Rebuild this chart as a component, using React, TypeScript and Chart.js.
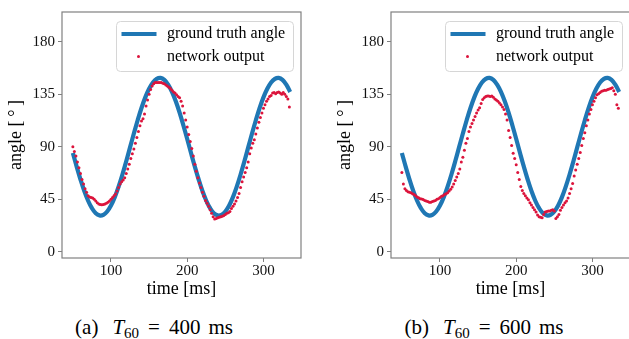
import React, { useEffect, useRef } from "react";
import { Chart, registerables } from "chart.js";

Chart.register(...registerables);

// ---------------- data ----------------
const gtTimes = [
  50, 55, 60, 65, 70, 75, 80, 85, 90, 95,
  100, 105, 110, 115, 120, 125, 130, 135, 140, 145,
  150, 155, 160, 165, 170, 175, 180, 185, 190, 195,
  200, 205, 210, 215, 220, 225, 230, 235, 240, 245,
  250, 255, 260, 265, 270, 275, 280, 285, 290, 295,
  300, 305, 310, 315, 320, 325, 330, 335,
];

const gtAngles = [
  84.6, 72.9, 61.9, 52.0, 43.7, 37.3, 33.0, 31.1, 31.6, 34.5,
  39.6, 46.8, 55.8, 66.2, 77.5, 89.4, 101.3, 112.7, 123.2, 132.3,
  139.7, 145.1, 148.2, 149.0, 147.3, 143.2, 137.0, 128.9, 119.2, 108.2,
  96.6, 84.6, 72.9, 61.9, 52.0, 43.7, 37.3, 33.0, 31.1, 31.6,
  34.5, 39.6, 46.8, 55.8, 66.2, 77.5, 89.4, 101.3, 112.7, 123.2,
  132.3, 139.7, 145.1, 148.2, 149.0, 147.3, 143.2, 137.0,
];

const outTimes = [
  50, 52, 54, 56, 58, 60, 62, 64, 66, 68,
  70, 72, 74, 76, 78, 80, 82, 84, 86, 88,
  90, 92, 94, 96, 98, 100, 102, 104, 106, 108,
  110, 112, 114, 116, 118, 120, 122, 124, 126, 128,
  130, 132, 134, 136, 138, 140, 142, 144, 146, 148,
  150, 152, 154, 156, 158, 160, 162, 164, 166, 168,
  170, 172, 174, 176, 178, 180, 182, 184, 186, 188,
  190, 192, 194, 196, 198, 200, 202, 204, 206, 208,
  210, 212, 214, 216, 218, 220, 222, 224, 226, 228,
  230, 232, 234, 236, 238, 240, 242, 244, 246, 248,
  250, 252, 254, 256, 258, 260, 262, 264, 266, 268,
  270, 272, 274, 276, 278, 280, 282, 284, 286, 288,
  290, 292, 294, 296, 298, 300, 302, 304, 306, 308,
  310, 312, 314, 316, 318, 320, 322, 324, 326, 328,
  330, 332, 334,
];

// (a) T60 = 400 ms
const outAngles400 = [
  90, 86, 82, 77, 72, 67, 62, 58, 54, 51,
  48, 47, 46.5, 46, 45, 43.5, 42, 41, 40.5, 40.3,
  40.5, 41, 41.5, 42.5, 43.5, 45, 46.5, 48, 49.5, 52,
  55, 58, 60, 61.5, 63.5, 67, 71, 75, 80, 84,
  88, 93, 98, 103, 108, 112, 114, 118, 125, 130,
  135, 139, 142, 144, 145, 145, 145, 145, 145, 144.5,
  144, 143, 142, 141, 140, 138.5, 137, 136, 134.5, 133,
  132, 129, 125, 119, 113, 107, 100.5, 94.5, 88.5, 82,
  75, 69, 63.5, 59, 55, 51, 47.5, 44, 41.5, 39,
  36, 33, 30, 28, 28.5, 29, 29.5, 30, 30.5, 31,
  32, 33, 33.5, 34.5, 37, 39, 41, 43.5, 46.5, 50,
  55, 60, 64, 68, 72, 77, 84, 89, 93, 96,
  101, 106, 111, 115, 119, 123, 126, 129, 131, 133,
  134, 136, 136.5, 135.5, 136.5, 137, 136, 135, 136.5, 135,
  133, 131, 124,
];

// (b) T60 = 600 ms
const outAngles600 = [
  68, 58, 54, 52.5, 51.5, 51, 50.5, 49.7, 49, 48,
  47, 46.3, 45.5, 45.2, 44.8, 44, 43.5, 43, 42.5, 42.5,
  43, 43.5, 44, 45, 45.5, 46.5, 47.5, 48, 49, 49.7,
  50.5, 52, 53.5, 55.5, 58, 61, 64, 67, 71, 77,
  81, 87, 93, 97, 103, 107, 110, 113, 116, 119,
  121.5, 123.5, 127, 130.5, 132, 133, 133.5, 133.5, 133, 133.5,
  132.5, 131, 130, 129, 127.5, 126, 124, 122, 118, 113,
  104, 98, 91, 84.5, 80, 74.5, 68, 62, 56, 52.5,
  50, 48, 46, 44.5, 42, 40, 38, 36, 34, 31.5,
  30, 29.5, 29.2, 32, 34, 34.5, 35, 35, 35.5, 36,
  35, 28.5, 30, 32, 35.5, 38, 40, 42, 43.5, 46,
  50, 54, 58.5, 65, 70, 75, 80, 85, 91, 97,
  102, 108, 113, 118, 122, 126, 129, 132, 134.5, 135.5,
  136.5, 137.5, 138, 138.5, 138.5, 139, 139.5, 140, 140.5, 138,
  135, 126, 123,
];

const xTickValues = [100, 200, 300];
const yTickValues = [0, 45, 90, 135, 180];
const legendLabels = ["ground truth angle", "network output"];
const xTitle = "time [ms]";
const yTitle = "angle [\u2009\u00B0\u2009]";

// ---------------- style ----------------
const FONT = '"Liberation Serif", "Times New Roman", serif';
const BLUE = "#1f77b4";
const RED = "#dc143c";
const SPINE = "#808080";

const framePlugin = {
  id: "frame",
  beforeDatasetsDraw(chart: any) {
    const { ctx, chartArea } = chart;
    const { left, top, right, bottom } = chartArea;
    ctx.save();
    ctx.strokeStyle = SPINE;
    ctx.lineWidth = 1.2;
    ctx.strokeRect(left, top, right - left, bottom - top);
    ctx.restore();
  },
};

const legendPlugin = {
  id: "customLegend",
  afterDatasetsDraw(chart: any) {
    const { ctx, chartArea } = chart;
    const w = 177;
    const h = 50;
    const x = Math.round(chartArea.right - 8 - w) + 0.5;
    const y = Math.round(chartArea.top + 9) + 0.5;
    ctx.save();
    ctx.beginPath();
    ctx.roundRect(x, y, w, h, 4);
    ctx.fillStyle = "rgba(255,255,255,0.85)";
    ctx.fill();
    ctx.strokeStyle = "#d6d6d6";
    ctx.lineWidth = 1;
    ctx.stroke();

    ctx.beginPath();
    ctx.moveTo(x + 5, y + 12.5);
    ctx.lineTo(x + 40, y + 12.5);
    ctx.strokeStyle = BLUE;
    ctx.lineWidth = 4;
    ctx.stroke();

    ctx.beginPath();
    ctx.arc(x + 22, y + 35, 1.5, 0, Math.PI * 2);
    ctx.fillStyle = RED;
    ctx.fill();

    ctx.font = `16px ${FONT}`;
    ctx.fillStyle = "#000";
    ctx.textBaseline = "middle";
    ctx.textAlign = "left";
    ctx.fillText(legendLabels[0], x + 50.5, y + 12.5);
    ctx.fillText(legendLabels[1], x + 50.5, y + 35);
    ctx.restore();
  },
};

function Panel({ left, values }: { left: number; values: number[] }) {
  const ref = useRef<HTMLCanvasElement>(null);
  useEffect(() => {
    const gridOpts = {
      display: true,
      drawOnChartArea: false,
      drawTicks: true,
      tickLength: 4,
      color: SPINE,
      lineWidth: 1,
    };
    const chart = new Chart(ref.current as HTMLCanvasElement, {
      type: "scatter",
      data: {
        datasets: [
          {
            label: legendLabels[1],
            data: outTimes.map((t, i) => ({ x: t, y: values[i] })),
            backgroundColor: RED,
            borderWidth: 0,
            pointRadius: 1.5,
            pointHoverRadius: 1.5,
            pointBorderWidth: 0,
          },
          {
            label: legendLabels[0],
            data: gtTimes.map((t, i) => ({ x: t, y: gtAngles[i] })),
            showLine: true,
            borderColor: BLUE,
            backgroundColor: BLUE,
            borderWidth: 4.2,
            pointRadius: 0,
            pointHoverRadius: 0,
            tension: 0.4,
            fill: false,
          } as any,
        ],
      },
      options: {
        animation: false,
        responsive: false,
        events: [],
        layout: { padding: { left: 0, top: 10, right: 14, bottom: 0 } },
        plugins: {
          legend: { display: false },
          tooltip: { enabled: false },
        },
        scales: {
          x: {
            type: "linear",
            min: 35.75,
            max: 349.25,
            afterBuildTicks: (s: any) => {
              s.ticks = xTickValues.map((v) => ({ value: v }));
            },
            afterFit: (s: any) => {
              s.height = 42;
            },
            grid: gridOpts,
            border: { display: false },
            ticks: {
              color: "#111",
              font: { family: FONT, size: 15 },
              padding: 0,
              maxRotation: 0,
              callback: (v: any) => String(v),
            },
            title: {
              display: true,
              text: xTitle,
              color: "#000",
              font: { family: FONT, size: 18 },
              padding: { top: 0, bottom: 0 },
            },
          },
          y: {
            type: "linear",
            min: -5.4,
            max: 205.5,
            afterBuildTicks: (s: any) => {
              s.ticks = yTickValues.map((v) => ({ value: v }));
            },
            afterFit: (s: any) => {
              s.width = 62;
            },
            grid: gridOpts,
            border: { display: false },
            ticks: {
              color: "#111",
              font: { family: FONT, size: 15 },
              padding: 3,
              callback: (v: any) => String(v),
            },
            title: {
              display: true,
              text: yTitle,
              color: "#000",
              font: { family: FONT, size: 18 },
              padding: { top: 5, bottom: 0 },
            },
          },
        },
      } as any,
      plugins: [framePlugin, legendPlugin],
    });
    return () => chart.destroy();
  }, [values]);
  return (
    <canvas
      ref={ref}
      width={315}
      height={300}
      style={{ position: "absolute", left, top: 0, width: 315, height: 300 }}
    />
  );
}

function Caption({ cx, tag, value }: { cx: number; tag: string; value: string }) {
  return (
    <div
      style={{
        position: "absolute",
        left: cx - 120,
        width: 240,
        top: 314,
        textAlign: "center",
        fontFamily: FONT,
        fontSize: 21,
        lineHeight: "26px",
        whiteSpace: "nowrap",
        color: "#000",
      }}
    >
      <span>{tag}</span>
      <span style={{ marginLeft: 14 }}>
        <i>T</i>
        <span style={{ fontSize: 15, position: "relative", top: 4 }}>60</span>
      </span>
      <span style={{ margin: "0 9px" }}>=</span>
      <span>{value}</span>
      <span style={{ marginLeft: 8 }}>ms</span>
    </div>
  );
}

export default function App() {
  return (
    <div
      style={{
        position: "fixed",
        left: 0,
        top: 0,
        width: 629,
        height: 339,
        overflow: "hidden",
        background: "#fff",
      }}
    >
      <Panel left={0} values={outAngles400} />
      <Panel left={329} values={outAngles600} />
      <Caption cx={154} tag="(a)" value="400" />
      <Caption cx={484} tag="(b)" value="600" />
    </div>
  );
}
